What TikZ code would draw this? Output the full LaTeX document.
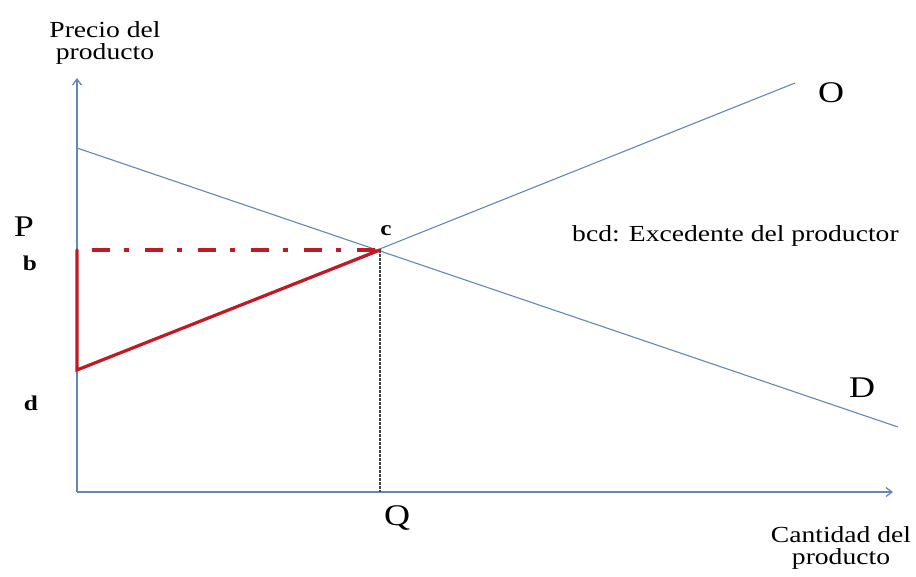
\documentclass[tikz,border=0pt]{standalone}
\usepackage{fontspec}
\setmainfont{Liberation Serif}[FakeStretch=1.2]
\usepackage{xcolor}
\usetikzlibrary{arrows.meta}
\definecolor{ejeazul}{RGB}{100,135,180}
\definecolor{rojoexc}{RGB}{192,26,36}

\begin{document}
\begin{tikzpicture}[x=1pt,y=-1pt,
  eje/.style={draw=ejeazul,line width=1.3pt,-{Straight Barb[length=6pt,width=9pt]}},
  curva/.style={draw=ejeazul,line width=1.1pt},
  exc/.style={draw=rojoexc,line width=3.2pt},
  etq/.style={font=\fontsize{23}{22}\selectfont,align=center,inner sep=0pt},
  letra/.style={font=\fontsize{30}{30}\selectfont,anchor=base,inner sep=0pt},
  punto/.style={font=\fontsize{21}{21}\selectfont\bfseries,anchor=base,inner sep=0pt}]
\useasboundingbox (0,0) rectangle (916,576);
% puntos del grafico
\coordinate (orig) at (77,492);
\coordinate (ytop) at (77,78);
\coordinate (xend) at (893,492);
\coordinate (dini) at (77,148);
\coordinate (dfin) at (898,427);
\coordinate (c) at (380,250);
\coordinate (b) at (77,250);
\coordinate (bdash) at (92,250);
\coordinate (d) at (77,370);
\coordinate (ofin) at (795,83);
\coordinate (q) at (380,492);
% ejes
\draw[eje] (orig) -- (ytop);
\draw[eje] (orig) -- (xend);
% oferta y demanda
\draw[curva] (dini) -- (dfin);
\draw[curva] (d) -- (ofin);
% excedente del productor
\draw[draw=gray!55!black,line width=1.1pt,dash pattern=on 2.5pt off 1.5pt] (c) -- (q);
\draw[exc,line width=3.4pt,dash pattern=on 18pt off 14pt on 5pt off 16pt] (bdash) -- (c);
\draw[exc,line cap=round] (b) -- (d) -- (c);
% textos
\node[etq] (ylab) at (105,43) {Precio del\\producto};
\node[etq] (xlab) at (841,548) {Cantidad del\\producto};
\node[letra] (lP) at (24,236) {P};
\node[letra] (lQ) at (397,525) {Q};
\node[letra] (lO) at (831,102) {O};
\node[letra] (lD) at (862,397) {D};
\node[punto] (lb) at (30,270) {b};
\node[punto] (ld) at (31,410) {d};
\node[punto] (lc) at (386,235) {c};
\node[etq,anchor=base west] (nota) at (572,241) {bcd: Excedente del productor};
\end{tikzpicture}
\end{document}
